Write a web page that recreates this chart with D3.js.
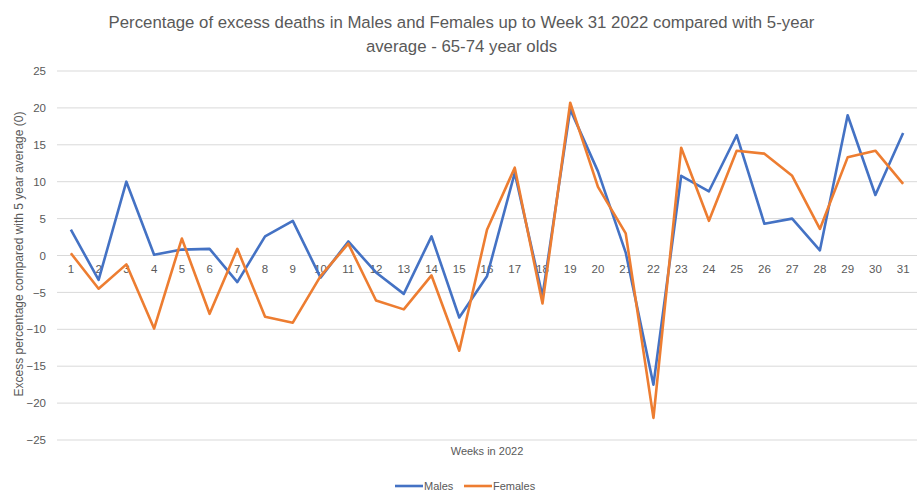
<!DOCTYPE html>
<html>
<head>
<meta charset="utf-8">
<script src="https://cdn.jsdelivr.net/npm/d3@7"></script>
<style>
  body { margin: 0; background: #fff; }
  text { font-family: "Liberation Sans", Arial, sans-serif; fill: #595959; }
</style>
</head>
<body>
<div id="chart_area"></div>
<script>
var width = 923, height = 501;
var margin = { top: 71, right: 6, bottom: 61, left: 57 };

var weeks = d3.range(1, 32).map(String);
var males = [3.5, -3.3, 10.0, 0.1, 0.8, 0.9, -3.6, 2.6, 4.7, -3.0, 1.9, -2.3, -5.2, 2.6, -8.4,
    -2.8, 11.2, -5.5, 19.8, 11.4, 0.4, -17.5, 10.8, 8.7, 16.3, 4.3, 5.0, 0.7, 19.0, 8.2, 16.6];
var females = [0.3, -4.5, -1.2, -9.9, 2.3, -7.9, 0.9, -8.3, -9.1, -2.8, 1.6, -6.1, -7.3, -2.7, -12.9,
    3.5, 11.9, -6.5, 20.7, 9.3, 3.0, -22.0, 14.6, 4.7, 14.2, 13.8, 10.8, 3.6, 13.3, 14.2, 9.7];
var yTicks = [-25, -20, -15, -10, -5, 0, 5, 10, 15, 20, 25];

var series = [
    { name: "Males", values: males, colour: "#4472c4" },
    { name: "Females", values: females, colour: "#ed7d31" }
];

var svg = d3.select("#chart_area")
    .append("svg")
    .attr("width", width)
    .attr("height", height);

var x = d3.scaleBand()
    .domain(weeks)
    .range([margin.left, width - margin.right]);

var y = d3.scaleLinear()
    .domain([-25, 25])
    .range([height - margin.bottom, margin.top]);

// gridlines
svg.append("g")
    .selectAll("line")
    .data(yTicks)
    .enter()
    .append("line")
    .attr("x1", margin.left)
    .attr("x2", width - margin.right)
    .attr("y1", function (d) { return y(d); })
    .attr("y2", function (d) { return y(d); })
    .attr("stroke", "#d9d9d9")
    .attr("stroke-width", 1);

// Y axis labels
var yAxis = svg.append("g")
    .attr("transform", "translate(" + margin.left + ",0)")
    .call(d3.axisLeft(y).tickValues(yTicks).tickSize(0).tickPadding(11));
yAxis.select(".domain").remove();
yAxis.selectAll("text")
    .style("font-size", "11.5px")
    .style("fill", "#595959");

// X axis labels sit on the zero line
var xAxis = svg.append("g")
    .attr("transform", "translate(0," + y(0) + ")")
    .call(d3.axisBottom(x).tickSize(0).tickPadding(9));
xAxis.select(".domain").remove();
xAxis.selectAll("text")
    .style("font-size", "11.5px")
    .style("fill", "#595959");

// lines
var line = d3.line()
    .x(function (d, i) { return x(weeks[i]) + x.bandwidth() / 2; })
    .y(function (d) { return y(d); });

svg.selectAll(".series")
    .data(series)
    .enter()
    .append("path")
    .attr("class", "series")
    .attr("d", function (d) { return line(d.values); })
    .attr("fill", "none")
    .attr("stroke", function (d) { return d.colour; })
    .attr("stroke-width", 2.6)
    .attr("stroke-linejoin", "round");

// title
svg.append("text")
    .attr("x", width / 2)
    .attr("y", 28)
    .attr("text-anchor", "middle")
    .style("font-size", "16.8px")
    .text("Percentage of excess deaths in Males and Females up to Week 31 2022 compared with 5-year");
svg.append("text")
    .attr("x", width / 2)
    .attr("y", 52)
    .attr("text-anchor", "middle")
    .style("font-size", "16.8px")
    .text("average - 65-74 year olds");

// axis titles
svg.append("text")
    .attr("x", (margin.left + width - margin.right) / 2)
    .attr("y", 455)
    .attr("text-anchor", "middle")
    .style("font-size", "11px")
    .text("Weeks in 2022");

svg.append("text")
    .attr("transform", "translate(23," + 254 + ")rotate(-90)")
    .attr("text-anchor", "middle")
    .style("font-size", "12px")
    .text("Excess percentage compared with 5 year average (0)");

// legend
var legend = svg.append("g")
    .selectAll("g")
    .data(series)
    .enter()
    .append("g")
    .attr("transform", function (d, i) { return "translate(" + (395 + i * 69) + ",486)"; });
legend.append("line")
    .attr("x1", 0)
    .attr("x2", 28)
    .attr("stroke", function (d) { return d.colour; })
    .attr("stroke-width", 2.6);
legend.append("text")
    .attr("x", 29)
    .attr("dy", "0.35em")
    .style("font-size", "11px")
    .text(function (d) { return d.name; });
</script>
</body>
</html>
